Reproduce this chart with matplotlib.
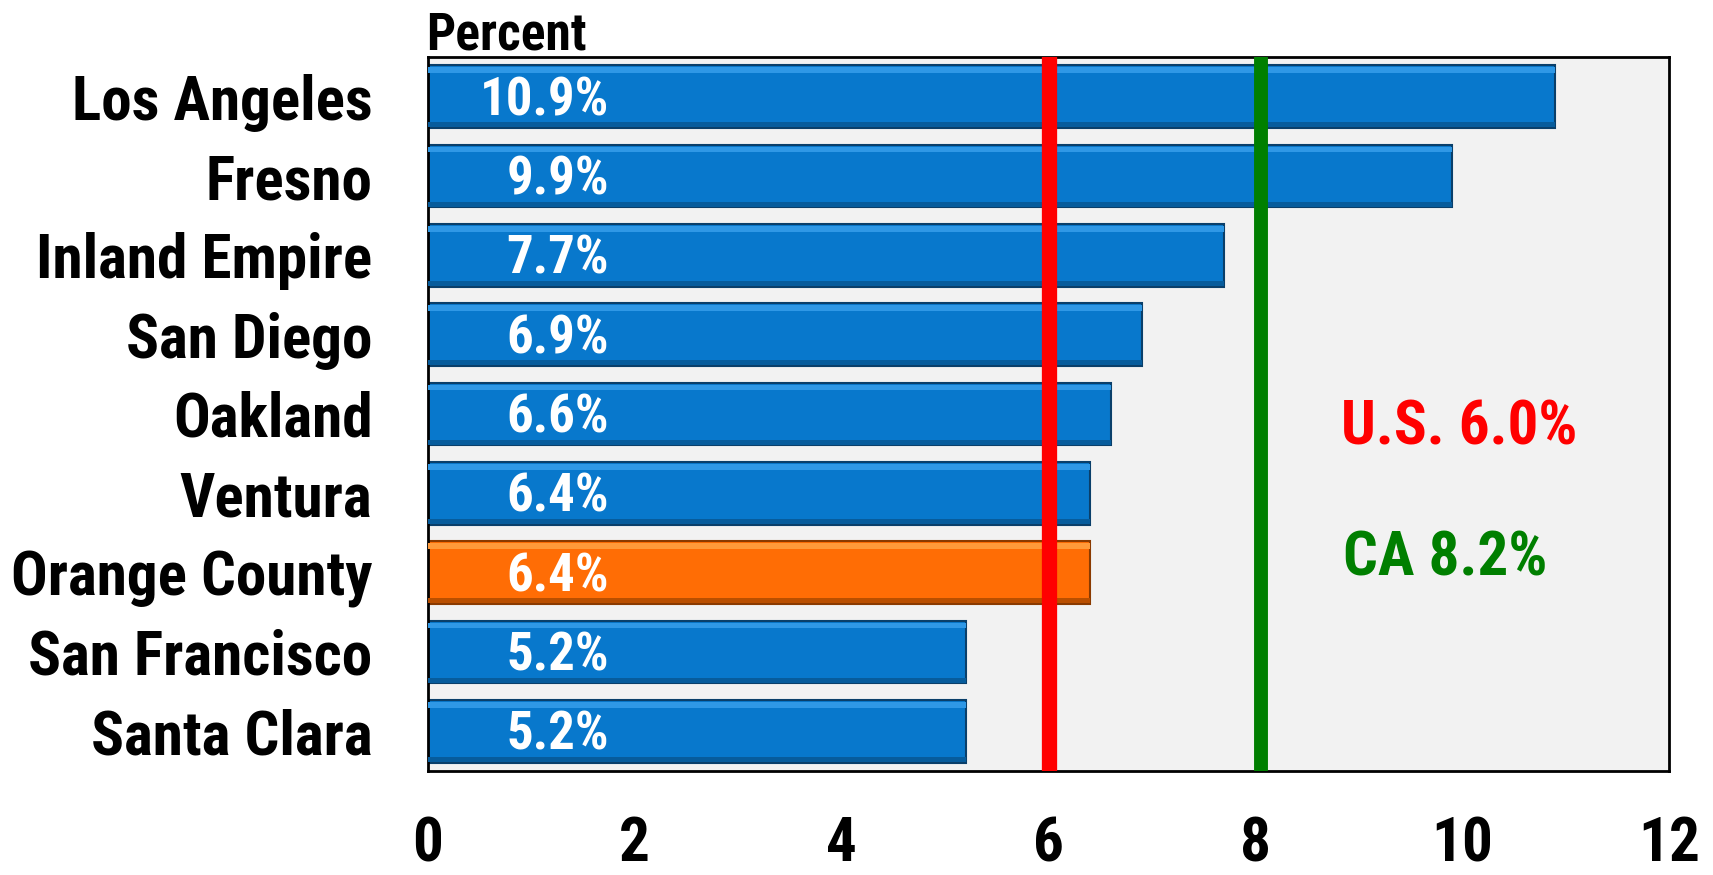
import matplotlib.pyplot as plt
import numpy as np
from matplotlib import font_manager

# data
regions = ["Los Angeles", "Fresno", "Inland Empire", "San Diego", "Oakland",
           "Ventura", "Orange County", "San Francisco", "Santa Clara"]
rates = [10.9, 9.9, 7.7, 6.9, 6.6, 6.4, 6.4, 5.2, 5.2]
highlight = "Orange County"
us_rate = 6.0
ca_rate = 8.2
ca_line_x = 8.05   # where the CA line sits in the picture
x_ticks = [0, 2, 4, 6, 8, 10, 12]

# narrow bold face if one is around, else plain Liberation Sans a bit smaller
bold_names = {f.name for f in font_manager.fontManager.ttflist if f.weight in (700, 'bold')}
fam, k = 'Liberation Sans', 0.86
for cand in ['Liberation Sans Narrow', 'Roboto Condensed', 'PT Sans Narrow',
             'Archivo Narrow', 'Asap Condensed']:
    if cand in bold_names:
        fam, k = cand, 1.0
        break
plt.rcParams['font.family'] = [fam, 'Liberation Sans', 'DejaVu Sans']
plt.rcParams['font.weight'] = 'bold'

fig = plt.figure(figsize=(17.13, 8.75), dpi=100)
ax = fig.add_axes([428 / 1713, 1 - 771 / 875, (1669 - 428) / 1713, (771 - 57) / 875])
ax.set_facecolor('#f2f2f2')

y = np.arange(len(regions))
colors = ['#ff6d05' if r == highlight else '#0878cc' for r in regions]
edges = ['#8a3a00' if r == highlight else '#0a3f6a' for r in regions]
h = 0.79
ax.barh(y, rates, height=h, color=colors, edgecolor=edges, linewidth=1.5, zorder=2)
# lighter strip near the top and darker one at the bottom for the bevel look
hi = ['#ff9a3a' if r == highlight else '#2f98e6' for r in regions]
lo = ['#b94f00' if r == highlight else '#075c9c' for r in regions]
ax.barh(y - h / 2 + 0.06, rates, height=0.07, color=hi, linewidth=0, zorder=3)
ax.barh(y + h / 2 - 0.04, rates, height=0.06, color=lo, linewidth=0, zorder=3)

for yi, v in zip(y, rates):
    ax.text(1.75, yi + 0.05, f"{v:.1f}%", ha='right', va='center', color='white',
            fontsize=38 * k, fontweight='bold', zorder=5)

ax.axvline(us_rate, color='#ff0000', lw=11, zorder=4)
ax.axvline(ca_line_x, color='#007f00', lw=10, zorder=4)
ax.text(8.83, 4.17, f"U.S. {us_rate:.1f}%", color='#ff0000', fontsize=44 * k,
        fontweight='bold', va='center', ha='left')
ax.text(8.85, 5.82, f"CA {ca_rate:.1f}%", color='#007f00', fontsize=44 * k,
        fontweight='bold', va='center', ha='left')

ax.set_xlim(0, 12)
ax.set_ylim(len(regions) - 0.5, -0.5)
ax.set_xticks(x_ticks)
ax.set_xticklabels([str(t) for t in x_ticks], fontsize=44 * k, fontweight='bold')
ax.set_yticks(y)
ax.set_yticklabels(regions, fontsize=44 * k, fontweight='bold')
ax.tick_params(axis='both', length=0)
ax.tick_params(axis='x', pad=32)
ax.tick_params(axis='y', pad=40)
for s in ax.spines.values():
    s.set_linewidth(2)
    s.set_color('black')

fig.text(426 / 1713, 1 - 49 / 875, "Percent", fontsize=37 * k, fontweight='bold',
         ha='left', va='baseline')

fig.savefig("out.png", dpi=100)
